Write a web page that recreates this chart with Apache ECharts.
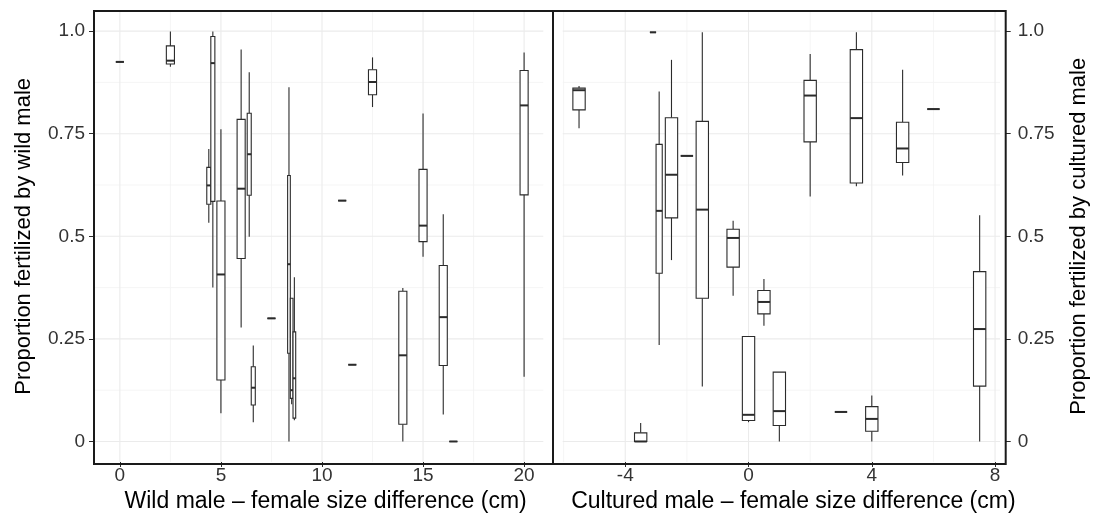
<!DOCTYPE html>
<html>
<head>
<meta charset="utf-8">
<script src="https://cdn.jsdelivr.net/npm/echarts@6/dist/echarts.min.js"></script>
<style>
html, body { margin: 0; padding: 0; background: #fff; }
#chart { width: 1093px; height: 518px; }
</style>
</head>
<body>
<div id="chart"></div>
<script>
// wild male panel: one box per entry, entries sharing an x are dodged
const wildX    = [0,     2.5,   4.5,   4.5,   5,     6,     6.5,   6.5,   7.5,   8.5,   8.5,   8.5,   11,    11.5,  12.5,  14,    15,    16,    16.5,  20];
const wildLow  = [0.925, 0.913, 0.533, 0.375, 0.069, 0.278, 0.499, 0.047, 0.300, 0.000, 0.091, 0.052, 0.587, 0.187, 0.815, 0.000, 0.450, 0.066, 0.000, 0.158];
const wildQ1   = [0.925, 0.920, 0.578, 0.585, 0.150, 0.446, 0.600, 0.089, 0.300, 0.215, 0.105, 0.057, 0.587, 0.187, 0.845, 0.042, 0.487, 0.185, 0.000, 0.601];
const wildMed  = [0.925, 0.928, 0.624, 0.922, 0.407, 0.616, 0.700, 0.131, 0.300, 0.432, 0.125, 0.154, 0.587, 0.187, 0.876, 0.210, 0.526, 0.303, 0.000, 0.819];
const wildQ3   = [0.925, 0.964, 0.668, 0.987, 0.586, 0.785, 0.800, 0.182, 0.300, 0.648, 0.349, 0.267, 0.587, 0.187, 0.906, 0.366, 0.663, 0.429, 0.000, 0.904];
const wildHigh = [0.925, 0.999, 0.713, 0.999, 0.761, 0.955, 0.900, 0.234, 0.300, 0.863, 0.349, 0.400, 0.587, 0.187, 0.936, 0.374, 0.799, 0.554, 0.000, 0.948];

// cultured male panel
const cultX    = [-5.5,  -3.5,  -3,    -3,    -2.5,  -2,    -1.5,  -0.5,  0,     0.5,   1,     2,     3,     3.5,   4,     5,     6,     7.5];
const cultLow  = [0.763, 0.000, 0.997, 0.235, 0.442, 0.696, 0.134, 0.355, 0.047, 0.282, 0.000, 0.597, 0.072, 0.622, 0.000, 0.648, 0.810, 0.000];
const cultQ1   = [0.808, 0.000, 0.997, 0.410, 0.545, 0.696, 0.349, 0.425, 0.051, 0.311, 0.039, 0.730, 0.072, 0.630, 0.025, 0.680, 0.810, 0.135];
const cultMed  = [0.856, 0.000, 0.997, 0.562, 0.650, 0.696, 0.565, 0.496, 0.065, 0.340, 0.074, 0.843, 0.072, 0.788, 0.055, 0.714, 0.810, 0.274];
const cultQ3   = [0.861, 0.021, 0.997, 0.724, 0.789, 0.696, 0.780, 0.517, 0.256, 0.368, 0.169, 0.880, 0.072, 0.955, 0.085, 0.778, 0.810, 0.414];
const cultHigh = [0.866, 0.045, 0.997, 0.853, 0.930, 0.696, 0.997, 0.538, 0.256, 0.396, 0.169, 0.944, 0.072, 0.997, 0.112, 0.906, 0.810, 0.551];

// axis breaks
const wildXTicks  = [0, 5, 10, 15, 20];
const wildXMinor  = [2.5, 7.5, 12.5, 17.5];
const cultXTicks  = [-4, 0, 4, 8];
const cultXMinor  = [-6, -2, 2, 6];
const yTicks      = [0, 0.25, 0.5, 0.75, 1];
const yTickLabels = ['0', '0.25', '0.5', '0.75', '1.0'];
const yMinor      = [0.125, 0.375, 0.625, 0.875];

const FONT = '"Liberation Sans", Arial, Helvetica, sans-serif';
const BOX_W = 0.4;
const INK = '#2b2b2b';

function boxData(xs, lo, q1, md, q3, hi) {
    const count = {}, seen = {};
    xs.forEach(x => { count[x] = (count[x] || 0) + 1; });
    return xs.map((x, i) => {
        const n = count[x];
        const k = seen[x] || 0;
        seen[x] = k + 1;
        const w = BOX_W / n;
        const cx = x - BOX_W / 2 + w * (k + 0.5);
        return [cx, w, lo[i], q1[i], md[i], q3[i], hi[i]];
    });
}

function gridData(xMajor, xMinor) {
    const d = [];
    xMinor.forEach(v => d.push([v, 0, 0]));
    yMinor.forEach(v => d.push([v, 1, 0]));
    xMajor.forEach(v => d.push([v, 0, 1]));
    yTicks.forEach(v => d.push([v, 1, 1]));
    return d;
}

function renderGrid(params, api) {
    const cs = params.coordSys;
    const v = api.value(0), horiz = api.value(1) === 1, major = api.value(2) === 1;
    const style = { stroke: major ? '#ebebeb' : '#f2f2f2', lineWidth: major ? 1.1 : 0.8 };
    if (horiz) {
        const y = api.coord([0, v])[1];
        return { type: 'line', shape: { x1: cs.x, y1: y, x2: cs.x + cs.width, y2: y }, style };
    }
    const x = api.coord([v, 0.5])[0];
    return { type: 'line', shape: { x1: x, y1: cs.y, x2: x, y2: cs.y + cs.height }, style };
}

function renderBox(params, api) {
    const x = api.value(0), w = api.value(1);
    const lo = api.value(2), q1 = api.value(3), md = api.value(4), q3 = api.value(5), hi = api.value(6);
    const half = api.size([w, 0])[0] / 2;
    const cx = api.coord([x, md])[0];
    const yLo = api.coord([x, lo])[1], yQ1 = api.coord([x, q1])[1], yMd = api.coord([x, md])[1];
    const yQ3 = api.coord([x, q3])[1], yHi = api.coord([x, hi])[1];
    const line = { stroke: INK, lineWidth: 1.1 };
    const children = [];
    if (hi > q3) children.push({ type: 'line', shape: { x1: cx, y1: yQ3, x2: cx, y2: yHi }, style: line });
    if (lo < q1) children.push({ type: 'line', shape: { x1: cx, y1: yQ1, x2: cx, y2: yLo }, style: line });
    children.push({ type: 'rect', shape: { x: cx - half, y: yQ3, width: half * 2, height: yQ1 - yQ3 },
                    style: { fill: '#fff', stroke: INK, lineWidth: 1.1 } });
    children.push({ type: 'line', shape: { x1: cx - half, y1: yMd, x2: cx + half, y2: yMd },
                    style: { stroke: INK, lineWidth: 2 } });
    return { type: 'group', children };
}

function xAxisFor(idx, min, max, ticks, title, shift) {
    return {
        gridIndex: idx, type: 'value', min, max,
        axisLine: { show: false, onZero: false },
        splitLine: { show: false },
        axisTick: { show: true, customValues: ticks, length: 5, lineStyle: { color: INK, width: 1 } },
        axisLabel: { customValues: ticks, color: '#333', fontSize: 19, fontFamily: FONT, margin: 4 },
        name: title, nameLocation: 'middle', nameGap: 28,
        nameTextStyle: { color: '#000', fontSize: 23, fontFamily: FONT, padding: [0, 0, 0, shift] }
    };
}

function yAxisFor(idx, pos, offset, title, margin, gap) {
    return {
        gridIndex: idx, type: 'value', min: -0.05, max: 1.05, position: pos, offset,
        axisLine: { show: false, onZero: false },
        splitLine: { show: false },
        axisTick: { show: true, customValues: yTicks, length: 5, lineStyle: { color: INK, width: 1 } },
        axisLabel: { customValues: yTicks, color: '#333', fontSize: 19, fontFamily: FONT, margin,
                     formatter: v => yTickLabels[yTicks.indexOf(v)] },
        name: title, nameLocation: 'middle', nameGap: gap, nameRotate: 90,
        nameTextStyle: { color: '#000', fontSize: 22, fontFamily: FONT }
    };
}

const chart = echarts.init(document.getElementById('chart'));

chart.setOption({
    animation: false,
    backgroundColor: '#fff',
    grid: [
        { left: 94, top: 10.6, width: 449.3, height: 454.4 },
        { left: 562.7, top: 10.6, width: 437.3, height: 454.4 }
    ],
    xAxis: [
        xAxisFor(0, -1.28, 20.95, wildXTicks, 'Wild male – female size difference (cm)', 14),
        xAxisFor(1, -6.03, 8.16, cultXTicks, 'Cultured male – female size difference (cm)', 24)
    ],
    yAxis: [
        yAxisFor(0, 'left', 0, 'Proportion fertilized by wild male', 9, 59),
        yAxisFor(1, 'right', 5.7, 'Proportion fertilized by cultured male', 12, 62)
    ],
    series: [
        { type: 'custom', xAxisIndex: 0, yAxisIndex: 0, z: 1, silent: true,
          renderItem: renderGrid, data: gridData(wildXTicks, wildXMinor) },
        { type: 'custom', xAxisIndex: 1, yAxisIndex: 1, z: 1, silent: true,
          renderItem: renderGrid, data: gridData(cultXTicks, cultXMinor) },
        { type: 'custom', xAxisIndex: 0, yAxisIndex: 0, z: 3,
          renderItem: renderBox, encode: { x: 0, y: [2, 3, 4, 5, 6] },
          data: boxData(wildX, wildLow, wildQ1, wildMed, wildQ3, wildHigh) },
        { type: 'custom', xAxisIndex: 1, yAxisIndex: 1, z: 3,
          renderItem: renderBox, encode: { x: 0, y: [2, 3, 4, 5, 6] },
          data: boxData(cultX, cultLow, cultQ1, cultMed, cultQ3, cultHigh) }
    ],
    graphic: [
        { type: 'rect', z: 10, silent: true, shape: { x: 94, y: 11, width: 911.7, height: 453 },
          style: { fill: 'none', stroke: '#1a1a1a', lineWidth: 2 } },
        { type: 'line', z: 10, silent: true, shape: { x1: 553, y1: 11, x2: 553, y2: 464 },
          style: { stroke: '#1a1a1a', lineWidth: 2 } }
    ]
});

window.addEventListener('resize', () => chart.resize());
</script>
</body>
</html>
